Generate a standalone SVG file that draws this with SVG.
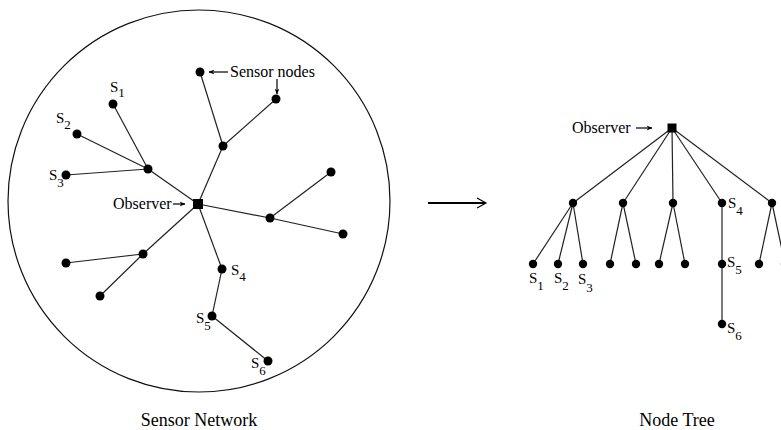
<svg xmlns="http://www.w3.org/2000/svg" width="781" height="430" viewBox="0 0 781 430">
<style>
  .bg{fill:#fff}
  .edge{stroke:#222;stroke-width:1.2;fill:none}
  .dot{fill:#000}
  .sq{fill:#000}
  .lbl{font-family:"Liberation Serif","Times New Roman",serif;font-size:16px;fill:#000}
  .s{font-family:"Liberation Serif","Times New Roman",serif;font-size:15px;fill:#000}
  .sub{font-size:13px}
  .title{font-family:"Liberation Serif","Times New Roman",serif;font-size:18px;fill:#000;text-anchor:middle}
  .ptr{stroke:#000;stroke-width:1.2;fill:none}
</style>
<defs>
  <marker id="ah" viewBox="0 0 10 10" refX="9" refY="5" markerWidth="6" markerHeight="6" orient="auto" markerUnits="userSpaceOnUse">
    <path d="M0,1 L10,5 L0,9 L3,5 Z" fill="#000"/>
  </marker>
</defs>
<rect class="bg" x="0" y="0" width="781" height="430"/>

<!-- boundary of sensor network -->
<g id="network-boundary">
  <circle cx="199" cy="201" r="191" fill="none" stroke="#111" stroke-width="1.2"/>
</g>

<g id="connectors">
  <!-- left network -->
  <line class="edge" x1="198" y1="204" x2="223" y2="146"/>
  <line class="edge" x1="223" y1="146" x2="200" y2="72"/>
  <line class="edge" x1="223" y1="146" x2="276" y2="99"/>
  <line class="edge" x1="198" y1="204" x2="148" y2="169"/>
  <line class="edge" x1="148" y1="169" x2="113" y2="104"/>
  <line class="edge" x1="148" y1="169" x2="77" y2="134"/>
  <line class="edge" x1="148" y1="169" x2="66" y2="175"/>
  <line class="edge" x1="198" y1="204" x2="270" y2="218"/>
  <line class="edge" x1="270" y1="218" x2="343" y2="234"/>
  <line class="edge" x1="270" y1="218" x2="331" y2="172"/>
  <line class="edge" x1="198" y1="204" x2="143" y2="254"/>
  <line class="edge" x1="143" y1="254" x2="66" y2="263"/>
  <line class="edge" x1="143" y1="254" x2="100" y2="296"/>
  <line class="edge" x1="198" y1="204" x2="222" y2="269"/>
  <line class="edge" x1="222" y1="269" x2="212" y2="316"/>
  <line class="edge" x1="212" y1="316" x2="268" y2="361"/>
  <!-- right tree -->
  <line class="edge" x1="672" y1="128" x2="573" y2="203"/>
  <line class="edge" x1="672" y1="128" x2="623" y2="203"/>
  <line class="edge" x1="672" y1="128" x2="673" y2="203"/>
  <line class="edge" x1="672" y1="128" x2="722" y2="203"/>
  <line class="edge" x1="672" y1="128" x2="772" y2="203"/>
  <line class="edge" x1="573" y1="203" x2="533" y2="264"/>
  <line class="edge" x1="573" y1="203" x2="558" y2="264"/>
  <line class="edge" x1="573" y1="203" x2="583" y2="264"/>
  <line class="edge" x1="623" y1="203" x2="610" y2="264"/>
  <line class="edge" x1="623" y1="203" x2="636" y2="264"/>
  <line class="edge" x1="673" y1="203" x2="659" y2="264"/>
  <line class="edge" x1="673" y1="203" x2="685" y2="264"/>
  <line class="edge" x1="722" y1="203" x2="722" y2="264"/>
  <line class="edge" x1="722" y1="264" x2="722" y2="324"/>
  <line class="edge" x1="772" y1="203" x2="759" y2="264"/>
  <line class="edge" x1="772" y1="203" x2="785" y2="264"/>
  <!-- transformation arrow -->
  <line x1="428" y1="203" x2="485" y2="203" stroke="#000" stroke-width="2"/>
  <polyline points="477,198 486,203 477,208" fill="none" stroke="#000" stroke-width="1.2"/>
  <!-- pointer arrows -->
  <line class="ptr" x1="173" y1="204" x2="185" y2="204" marker-end="url(#ah)"/>
  <line class="ptr" x1="228" y1="72" x2="209" y2="72" marker-end="url(#ah)"/>
  <line class="ptr" x1="277" y1="79" x2="277" y2="94" marker-end="url(#ah)"/>
  <line class="ptr" x1="636" y1="128" x2="652" y2="128" marker-end="url(#ah)"/>
</g>

<!-- left network nodes -->
<g id="n-observer-left"><rect class="sq" x="193" y="199" width="10" height="10"/>
  <text class="lbl" x="113" y="209">Observer</text></g>
<g id="n-top"><circle class="dot" cx="200" cy="72" r="4.5"/>
  <text class="lbl" x="230" y="77">Sensor nodes</text></g>
<g id="n-topright"><circle class="dot" cx="276" cy="99" r="4.5"/></g>
<g id="n-mid-up"><circle class="dot" cx="223" cy="146" r="4.5"/></g>
<g id="n-hub"><circle class="dot" cx="148" cy="169" r="4.5"/></g>
<g id="n-s1"><circle class="dot" cx="113" cy="104" r="4.5"/>
  <text class="s" x="110" y="92">S<tspan class="sub" dy="5">1</tspan></text></g>
<g id="n-s2"><circle class="dot" cx="77" cy="134" r="4.5"/>
  <text class="s" x="56" y="123">S<tspan class="sub" dy="6">2</tspan></text></g>
<g id="n-s3"><circle class="dot" cx="66" cy="175" r="4.5"/>
  <text class="s" x="49" y="180">S<tspan class="sub" dy="7">3</tspan></text></g>
<g id="n-right-up"><circle class="dot" cx="331" cy="172" r="4.5"/></g>
<g id="n-right-mid"><circle class="dot" cx="270" cy="218" r="4.5"/></g>
<g id="n-right-far"><circle class="dot" cx="343" cy="234" r="4.5"/></g>
<g id="n-left-mid"><circle class="dot" cx="143" cy="254" r="4.5"/></g>
<g id="n-left-far"><circle class="dot" cx="66" cy="263" r="4.5"/></g>
<g id="n-left-low"><circle class="dot" cx="100" cy="296" r="4.5"/></g>
<g id="n-s4"><circle class="dot" cx="222" cy="269" r="4.5"/>
  <text class="s" x="231" y="275">S<tspan class="sub" dy="6">4</tspan></text></g>
<g id="n-s5"><circle class="dot" cx="212" cy="316" r="4.5"/>
  <text class="s" x="196" y="323">S<tspan class="sub" dy="7">5</tspan></text></g>
<g id="n-s6"><circle class="dot" cx="268" cy="361" r="4.5"/>
  <text class="s" x="251" y="368">S<tspan class="sub" dy="7">6</tspan></text></g>

<!-- right tree nodes -->
<g id="t-observer"><rect class="sq" x="667.5" y="123.5" width="9" height="9"/>
  <text class="lbl" x="572" y="133">Observer</text></g>
<g id="t-a"><circle class="dot" cx="573" cy="203" r="4.2"/></g>
<g id="t-b"><circle class="dot" cx="623" cy="203" r="4.2"/></g>
<g id="t-c"><circle class="dot" cx="673" cy="203" r="4.2"/></g>
<g id="t-s4"><circle class="dot" cx="722" cy="203" r="4.2"/>
  <text class="s" x="728" y="208">S<tspan class="sub" dy="7">4</tspan></text></g>
<g id="t-e"><circle class="dot" cx="772" cy="203" r="4.2"/></g>
<g id="t-s1"><circle class="dot" cx="533" cy="264" r="4.2"/>
  <text class="s" x="529" y="283">S<tspan class="sub" dy="7">1</tspan></text></g>
<g id="t-s2"><circle class="dot" cx="558" cy="264" r="4.2"/>
  <text class="s" x="554" y="283">S<tspan class="sub" dy="7">2</tspan></text></g>
<g id="t-s3"><circle class="dot" cx="583" cy="264" r="4.2"/>
  <text class="s" x="578" y="284">S<tspan class="sub" dy="8">3</tspan></text></g>
<g id="t-b1"><circle class="dot" cx="610" cy="264" r="4.2"/></g>
<g id="t-b2"><circle class="dot" cx="636" cy="264" r="4.2"/></g>
<g id="t-c1"><circle class="dot" cx="659" cy="264" r="4.2"/></g>
<g id="t-c2"><circle class="dot" cx="685" cy="264" r="4.2"/></g>
<g id="t-s5"><circle class="dot" cx="722" cy="264" r="4.2"/>
  <text class="s" x="727" y="267">S<tspan class="sub" dy="7">5</tspan></text></g>
<g id="t-s6"><circle class="dot" cx="722" cy="324" r="4.2"/>
  <text class="s" x="727" y="333">S<tspan class="sub" dy="7">6</tspan></text></g>
<g id="t-e1"><circle class="dot" cx="759" cy="264" r="4.2"/></g>
<g id="t-e2"><circle class="dot" cx="785" cy="264" r="4.2"/></g>

<text class="title" x="199" y="426">Sensor Network</text>
<text class="title" x="677" y="426">Node Tree</text>
</svg>
